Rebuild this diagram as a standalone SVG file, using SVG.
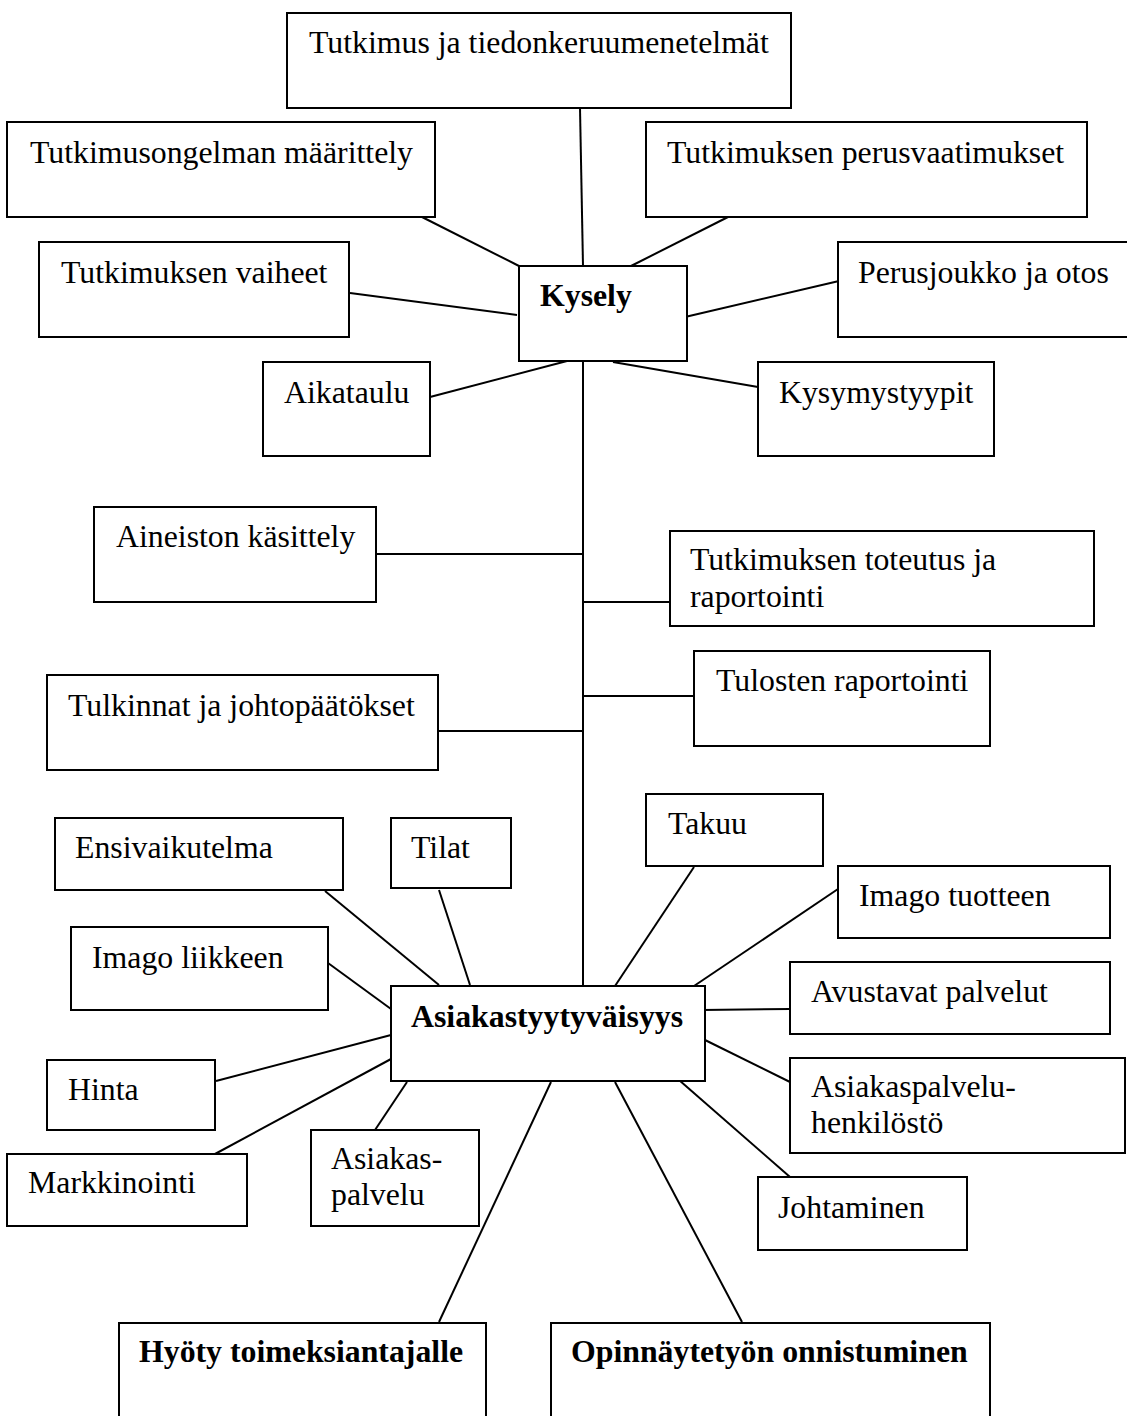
<svg xmlns="http://www.w3.org/2000/svg" width="1127" height="1416" viewBox="0 0 1127 1416">
<style>
.box{fill:#fff;stroke:#000;stroke-width:2}
.t{font-family:"Liberation Serif","Times New Roman",serif;font-size:31.8px;fill:#000}
.b{font-weight:bold}
.c line{stroke:#000;stroke-width:2}
</style>
<rect x="0" y="0" width="1127" height="1416" fill="#fff"/>
<g class="c" id="connectors">
<line x1="580" y1="108" x2="583" y2="266"/>
<line x1="422" y1="217" x2="519" y2="266"/>
<line x1="728" y1="217" x2="631" y2="266"/>
<line x1="350" y1="293" x2="517" y2="315"/>
<line x1="685" y1="317" x2="839" y2="281"/>
<line x1="430" y1="397" x2="567" y2="361"/>
<line x1="613" y1="362" x2="758" y2="387"/>
<line x1="583" y1="361" x2="583" y2="986"/>
<line x1="376" y1="554" x2="583" y2="554"/>
<line x1="583" y1="602" x2="670" y2="602"/>
<line x1="583" y1="696" x2="694" y2="696"/>
<line x1="439" y1="731" x2="583" y2="731"/>
<line x1="325" y1="891" x2="439" y2="985"/>
<line x1="439" y1="890" x2="470" y2="985"/>
<line x1="694" y1="867" x2="615" y2="986"/>
<line x1="838" y1="889" x2="694" y2="986"/>
<line x1="328" y1="963" x2="391" y2="1009"/>
<line x1="702" y1="1010" x2="790" y2="1009"/>
<line x1="216" y1="1081" x2="391" y2="1035"/>
<line x1="215" y1="1154" x2="391" y2="1059"/>
<line x1="375" y1="1130" x2="407" y2="1082"/>
<line x1="705" y1="1040" x2="790" y2="1082"/>
<line x1="679" y1="1080" x2="790" y2="1177"/>
<line x1="551" y1="1082" x2="439" y2="1322"/>
<line x1="615" y1="1082" x2="742" y2="1322"/>
</g>
<g id="n-tutkimus"><rect class="box" x="287" y="13" width="504" height="95"/><text class="t" x="309" y="53">Tutkimus ja tiedonkeruumenetelmät</text></g>
<g id="n-ongelma"><rect class="box" x="7" y="122" width="428" height="95"/><text class="t" x="30" y="163">Tutkimusongelman määrittely</text></g>
<g id="n-perusvaatimukset"><rect class="box" x="646" y="122" width="441" height="95"/><text class="t" x="667" y="163">Tutkimuksen perusvaatimukset</text></g>
<g id="n-vaiheet"><rect class="box" x="39" y="242" width="310" height="95"/><text class="t" x="61" y="283">Tutkimuksen vaiheet</text></g>
<g id="n-kysely"><rect class="box" x="519" y="266" width="168" height="95"/><text class="t b" x="540" y="306">Kysely</text></g>
<g id="n-perusjoukko"><rect class="box" x="838" y="242" width="292" height="95"/><text class="t" x="858" y="283">Perusjoukko ja otos</text></g>
<g id="n-aikataulu"><rect class="box" x="263" y="362" width="167" height="94"/><text class="t" x="284" y="403">Aikataulu</text></g>
<g id="n-kysymystyypit"><rect class="box" x="758" y="362" width="236" height="94"/><text class="t" x="779" y="403">Kysymystyypit</text></g>
<g id="n-aineisto"><rect class="box" x="94" y="507" width="282" height="95"/><text class="t" x="116" y="547">Aineiston käsittely</text></g>
<g id="n-toteutus"><rect class="box" x="670" y="531" width="424" height="95"/><text class="t" x="690" y="570">Tutkimuksen toteutus ja</text><text class="t" x="690" y="607">raportointi</text></g>
<g id="n-tulosten"><rect class="box" x="694" y="651" width="296" height="95"/><text class="t" x="716" y="691">Tulosten raportointi</text></g>
<g id="n-tulkinnat"><rect class="box" x="47" y="675" width="391" height="95"/><text class="t" x="68" y="716">Tulkinnat ja johtopäätökset</text></g>
<g id="n-ensivaikutelma"><rect class="box" x="55" y="818" width="288" height="72"/><text class="t" x="75" y="858">Ensivaikutelma</text></g>
<g id="n-tilat"><rect class="box" x="391" y="818" width="120" height="70"/><text class="t" x="411" y="858">Tilat</text></g>
<g id="n-takuu"><rect class="box" x="646" y="794" width="177" height="72"/><text class="t" x="668" y="834">Takuu</text></g>
<g id="n-imagotuote"><rect class="box" x="838" y="866" width="272" height="72"/><text class="t" x="859" y="906">Imago tuotteen</text></g>
<g id="n-imagoliike"><rect class="box" x="71" y="927" width="257" height="83"/><text class="t" x="92" y="968">Imago liikkeen</text></g>
<g id="n-asiakas"><rect class="box" x="391" y="986" width="314" height="95"/><text class="t b" x="411" y="1027">Asiakastyytyväisyys</text></g>
<g id="n-avustavat"><rect class="box" x="790" y="962" width="320" height="72"/><text class="t" x="811" y="1002">Avustavat palvelut</text></g>
<g id="n-hinta"><rect class="box" x="47" y="1060" width="168" height="70"/><text class="t" x="68" y="1100">Hinta</text></g>
<g id="n-aphenkilosto"><rect class="box" x="790" y="1058" width="335" height="95"/><text class="t" x="811" y="1097">Asiakaspalvelu-</text><text class="t" x="811" y="1133">henkilöstö</text></g>
<g id="n-markkinointi"><rect class="box" x="7" y="1154" width="240" height="72"/><text class="t" x="28" y="1193">Markkinointi</text></g>
<g id="n-asiakaspalvelu"><rect class="box" x="311" y="1130" width="168" height="96"/><text class="t" x="331" y="1169">Asiakas-</text><text class="t" x="331" y="1205">palvelu</text></g>
<g id="n-johtaminen"><rect class="box" x="758" y="1177" width="209" height="73"/><text class="t" x="778" y="1218">Johtaminen</text></g>
<g id="n-hyoty"><rect class="box" x="119" y="1323" width="367" height="100"/><text class="t b" x="139" y="1362">Hyöty toimeksiantajalle</text></g>
<g id="n-opinnayte"><rect class="box" x="551" y="1323" width="439" height="100"/><text class="t b" x="571" y="1362">Opinnäytetyön onnistuminen</text></g>
</svg>
